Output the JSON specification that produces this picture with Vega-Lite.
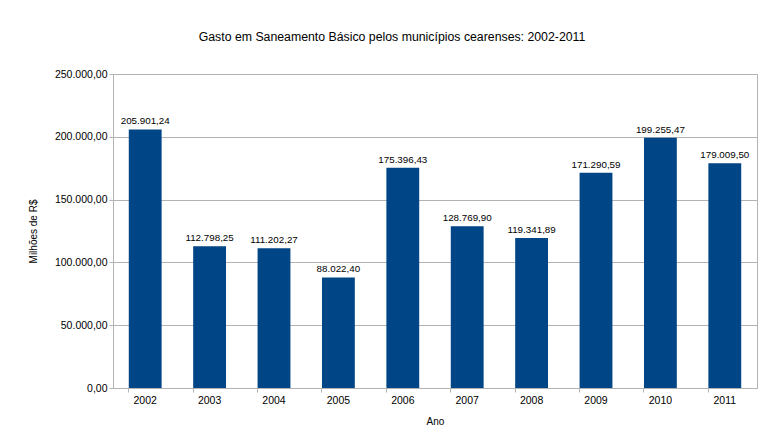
{
  "$schema": "https://vega.github.io/schema/vega-lite/v6.json",
  "autosize": "none",
  "width": 644,
  "height": 314,
  "padding": {"left": 113, "top": 74, "right": 9, "bottom": 51},
  "background": "white",
  "config": {
    "locale": {"number": {"decimal": ",", "thousands": ".", "grouping": [3], "currency": ["R$", ""]}},
    "font": "Liberation Sans",
    "view": {"stroke": "#b3b3b3", "strokeWidth": 1},
    "axis": {
      "labelFont": "Liberation Sans",
      "titleFont": "Liberation Sans",
      "labelColor": "#000000",
      "titleColor": "#000000",
      "titleFontWeight": "normal",
      "domainColor": "#b3b3b3",
      "tickColor": "#b3b3b3",
      "gridColor": "#b3b3b3",
      "gridOpacity": 1
    }
  },
  "title": {
    "text": "Gasto em Saneamento Básico pelos municípios cearenses: 2002-2011",
    "font": "Liberation Sans",
    "fontSize": 12.3,
    "fontWeight": "normal",
    "color": "#000000",
    "anchor": "middle",
    "frame": "group",
    "dx": -43,
    "offset": 26
  },
  "data": {
    "values": [
      {"ano": "2002", "gasto": 205901.24},
      {"ano": "2003", "gasto": 112798.25},
      {"ano": "2004", "gasto": 111202.27},
      {"ano": "2005", "gasto": 88022.40},
      {"ano": "2006", "gasto": 175396.43},
      {"ano": "2007", "gasto": 128769.90},
      {"ano": "2008", "gasto": 119341.89},
      {"ano": "2009", "gasto": 171290.59},
      {"ano": "2010", "gasto": 199255.47},
      {"ano": "2011", "gasto": 179009.50}
    ]
  },
  "encoding": {
    "x": {
      "field": "ano",
      "type": "nominal",
      "title": "Ano",
      "scale": {"paddingInner": 0.49, "paddingOuter": 0.245},
      "axis": {
        "labelAngle": 0,
        "labelFontSize": 10.5,
        "titleFontSize": 10,
        "bandPosition": 0,
        "tickSize": 4,
        "labelPadding": 3,
        "titlePadding": 11,
        "grid": false
      }
    },
    "y": {
      "field": "gasto",
      "type": "quantitative",
      "title": "Milhões de R$",
      "scale": {"domain": [0, 250000], "nice": false},
      "axis": {
        "values": [0, 50000, 100000, 150000, 200000, 250000],
        "format": ",.2f",
        "labelFontSize": 10.5,
        "titleFontSize": 10,
        "tickSize": 4,
        "labelPadding": 2,
        "titlePadding": 16
      }
    }
  },
  "layer": [
    {"mark": {"type": "bar", "color": "#004586"}},
    {
      "mark": {"type": "text", "baseline": "bottom", "dy": -3, "fontSize": 9.8, "font": "Liberation Sans", "color": "#000000"},
      "encoding": {"text": {"field": "gasto", "type": "quantitative", "format": ",.2f"}}
    }
  ]
}
